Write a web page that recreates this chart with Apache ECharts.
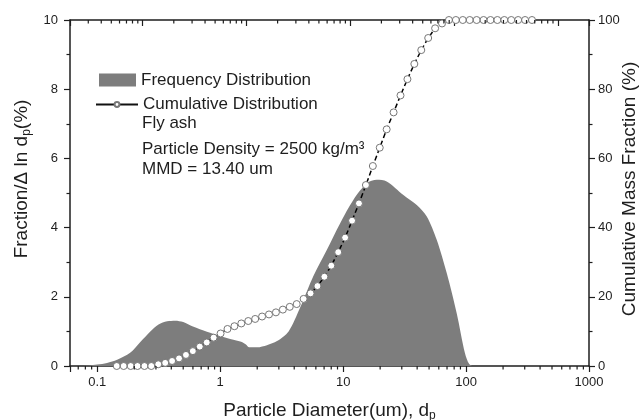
<!DOCTYPE html>
<html><head><meta charset="utf-8">
<script src="https://cdn.jsdelivr.net/npm/echarts@6/dist/echarts.min.js"></script>
<style>html,body{margin:0;padding:0;background:#fff}#c{width:640px;height:420px}</style>
</head><body><div id="c"></div>
<script>
// ---- data ----
const freqDiameter = [0.06,0.085,0.1,0.12,0.145,0.185,0.225,0.27,0.315,0.37,0.43,0.5,0.6,0.78,1.0,1.28,1.48,1.62,1.72,2.0,2.4,2.9,3.6,4.46,5.73,7.36,9.44,12.1,15.6,18.8,22.6,30.9,39.7,47.9,57.8,69.7,84,98,106,115,1000];
const freqValue = [0,0.01,0.04,0.09,0.18,0.38,0.7,1.0,1.2,1.29,1.31,1.27,1.14,0.99,0.87,0.76,0.70,0.62,0.54,0.54,0.60,0.72,1.0,1.68,2.6,3.35,4.12,4.80,5.28,5.38,5.33,4.94,4.65,4.32,3.64,2.68,1.52,0.37,0.06,0,0];
const cumDiameter = [0.144,0.164,0.187,0.2125,0.242,0.275,0.3135,0.357,0.406,0.4626,0.5265,0.599,0.682,0.777,0.884,1.007,1.146,1.305,1.485,1.691,1.925,2.191,2.494,2.840,3.233,3.680,4.190,4.769,5.430,6.181,7.037,8.011,9.119,10.38,11.82,13.45,15.32,17.44,19.85,22.60,25.73,29.29,33.34,37.95,43.21,49.19,56.00,63.75,72.57,82.61,94.05,107.1,121.9,138.8,158.0,179.8,204.7,233.1,265.3,302.0,343.8];
const cumValue = [0,0,0,0,0,0,0.5,0.9,1.45,2.2,3.2,4.3,5.6,6.8,8.2,9.4,10.7,11.5,12.3,13.0,13.6,14.3,14.9,15.5,16.3,17.1,17.9,19.4,21.0,23.1,25.8,29.0,32.9,37.1,42.0,47.0,52.3,57.8,63.1,68.4,73.3,78.2,82.9,87.3,91.3,94.8,97.6,99.0,100,100,100,100,100,100,100,100,100,100,100,100,100];
const bottomMinorTicks = [0.07,0.08,0.09,0.2,0.3,0.4,0.5,0.6,0.7,0.8,0.9,2,3,4,5,6,7,8,9,20,30,40,50,60,70,80,90,200,300,400,500,600,700,800,900];
const topMinorTicks = [0.3,0.4,0.5,0.6,0.7,0.8,0.9,2,3,4,5,6,7,8,9,20,30,40,50,60,70,80,90,200,300,400,500,600,700,800,900,2000,3000,4000,5000,6000,7000,8000,9000];
const legendNames = ['Frequency Distribution','Cumulative Distribution'];
const noteLines = ['Fly ash','Particle Density = 2500 kg/m³','MMD = 13.40 um'];

// ---- chart ----
const FONT = '"Liberation Sans", Arial, Helvetica, sans-serif';
const INK = '#1e1e1e';
const GRAY = '#7d7d7d';
const axisLine = {show:true, onZero:false, lineStyle:{color:INK, width:1.5}};
const tickStyle = {color:INK, width:1.2};
const subRich = {sub:{fontSize:12, padding:[10,0,0,0], verticalAlign:'bottom', color:INK, fontFamily:FONT}};
const powerOfTen = v => { const l = Math.log10(v); return Math.abs(l - Math.round(l)) < 1e-6 ? String(+v.toPrecision(6)) : ''; };

function minorTickRenderer(yVal, dir) {
  return function (params, api) {
    const p = api.coord([api.value(0), yVal]);
    return {type:'line', silent:true,
      shape:{x1:p[0], y1:p[1], x2:p[0], y2:p[1] + dir * 3.5},
      style:{stroke:INK, lineWidth:1.2}};
  };
}

const chart = echarts.init(document.getElementById('c'));
chart.setOption({
  animation:false,
  backgroundColor:'#fff',
  textStyle:{fontFamily:FONT},
  grid:{left:70, right:51, top:20, bottom:54, outerBoundsMode:'none', containLabel:false},
  legend:[
    {data:[{name:legendNames[0], icon:'rect'}], left:99, top:71.5, padding:0, itemWidth:37, itemHeight:13, selectedMode:false,
     textStyle:{fontSize:17, color:INK, fontFamily:FONT}},
    {data:[{name:legendNames[1]}], left:95, top:96, padding:0, itemWidth:42, itemHeight:6, selectedMode:false,
     lineStyle:{type:'solid', width:2, color:'#111'},
     textStyle:{fontSize:17, color:INK, fontFamily:FONT}}
  ],
  xAxis:[
    {type:'log', logBase:10, min:0.06, max:1000, position:'bottom',
     name:'Particle Diameter(um), d{sub|p}', nameLocation:'middle', nameGap:34,
     nameTextStyle:{fontSize:19, color:INK, fontFamily:FONT, rich:subRich},
     axisLine:axisLine,
     axisTick:{show:true, inside:false, length:6, lineStyle:tickStyle},
     axisLabel:{show:true, margin:10, fontSize:13, color:INK, fontFamily:FONT, formatter:powerOfTen},
     splitLine:{show:false}},
    {type:'log', logBase:10, min:0.2, max:20000, position:'top',
     axisLine:axisLine, axisTick:{show:true, inside:true, length:6, lineStyle:tickStyle},
     axisLabel:{show:false}, splitLine:{show:false}}
  ],
  yAxis:[
    {type:'value', min:0, max:10, interval:2, position:'left',
     name:'Fraction/Δ ln d{sub|p}(%)', nameLocation:'middle', nameGap:36, nameRotate:90,
     nameTextStyle:{fontSize:19, color:INK, fontFamily:FONT, rich:subRich, padding:[0,0,0,28]},
     axisLine:axisLine, axisTick:{show:true, length:6, lineStyle:tickStyle},
     minorTick:{show:true, splitNumber:2, length:3.5, lineStyle:tickStyle},
     axisLabel:{margin:12, fontSize:13, color:INK, fontFamily:FONT}, splitLine:{show:false}},
    {type:'value', min:0, max:100, interval:20, position:'right',
     name:'Cumulative Mass Fraction (%)', nameLocation:'middle', nameGap:31, nameRotate:90,
     nameMoveOverlap:false,
     nameTextStyle:{fontSize:19, color:INK, fontFamily:FONT, padding:[0,0,0,8]},
     axisLine:axisLine, axisTick:{show:true, length:6, lineStyle:tickStyle},
     minorTick:{show:true, splitNumber:2, length:3.5, lineStyle:tickStyle},
     axisLabel:{margin:9, fontSize:13, color:INK, fontFamily:FONT}, splitLine:{show:false}}
  ],
  graphic: noteLines.map((t,i)=>({type:'text', x:142, y:[123,149,169][i],
     style:{text:t, fontSize:17, fontFamily:FONT, fill:INK, verticalAlign:'middle'}})),
  series:[
    {type:'line', name:legendNames[0], xAxisIndex:0, yAxisIndex:0,
     data:freqDiameter.map((d,i)=>[d,freqValue[i]]),
     smooth:0.3, symbol:'none', showSymbol:false,
     lineStyle:{width:0, color:GRAY}, itemStyle:{color:GRAY},
     areaStyle:{color:GRAY, opacity:1}, z:1},
    {type:'line', name:legendNames[1], xAxisIndex:0, yAxisIndex:1,
     data:cumDiameter.map((d,i)=>[d,cumValue[i]]),
     symbol:'circle', symbolSize:7, showSymbol:true, clip:false,
     itemStyle:{color:'#fff', borderColor:'#777', borderWidth:1},
     lineStyle:{color:'#000', width:1.5, type:[5,3]}, z:3},
    {type:'custom', name:'bottomMinor', xAxisIndex:0, yAxisIndex:0, clip:false, silent:true, z:4,
     data:bottomMinorTicks.map(v=>[v,0]), encode:{x:0,y:1},
     renderItem:minorTickRenderer(0, 1)},
    {type:'custom', name:'topMinor', xAxisIndex:1, yAxisIndex:0, clip:false, silent:true, z:4,
     data:topMinorTicks.map(v=>[v,10]), encode:{x:0,y:1},
     renderItem:minorTickRenderer(10, 1)}
  ]
});
</script></body></html>
